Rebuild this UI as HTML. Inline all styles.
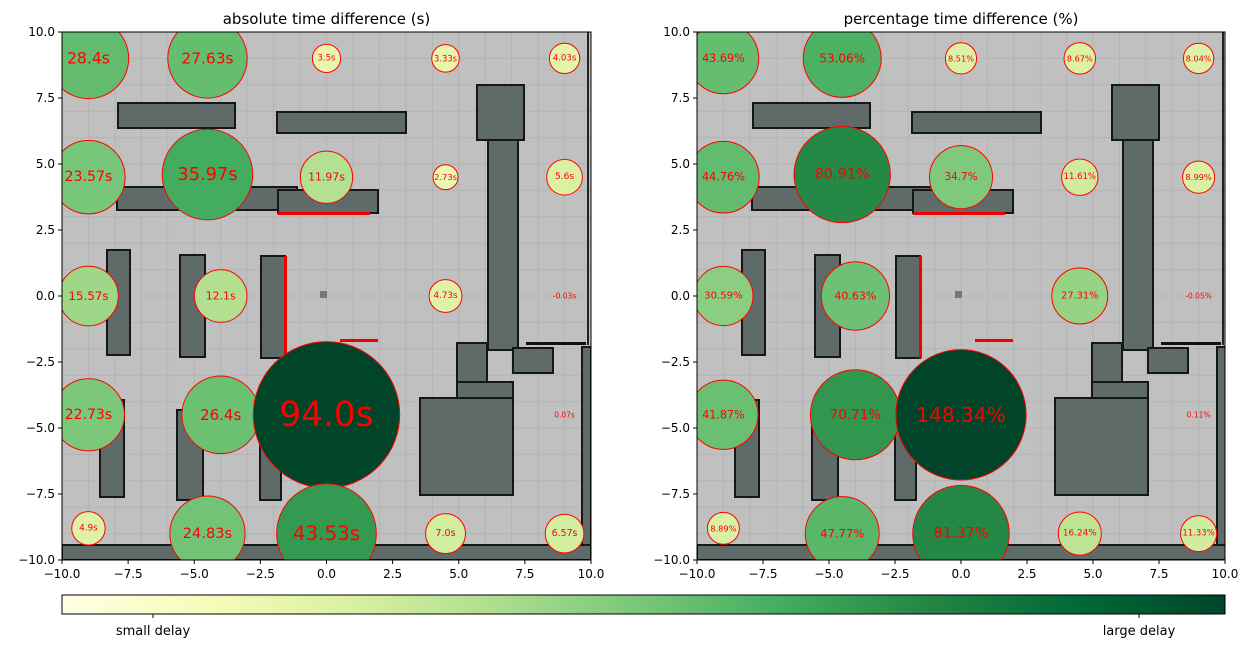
<!DOCTYPE html>
<html><head><meta charset="utf-8">
<style>
html,body{margin:0;padding:0;background:#fff;}
svg{display:block;font-family:"DejaVu Sans","Liberation Sans",sans-serif;}
</style></head>
<body>
<svg id="fig" width="1249" height="648" viewBox="0 0 1249 648" xmlns="http://www.w3.org/2000/svg">
<defs>
<linearGradient id="ylgn" x1="0" x2="1" y1="0" y2="0">
<stop offset="0" stop-color="#ffffe5"/><stop offset="0.125" stop-color="#f7fcb9"/><stop offset="0.25" stop-color="#d9f0a3"/><stop offset="0.375" stop-color="#addd8e"/><stop offset="0.5" stop-color="#78c679"/><stop offset="0.625" stop-color="#41ab5d"/><stop offset="0.75" stop-color="#238443"/><stop offset="0.875" stop-color="#006837"/><stop offset="1" stop-color="#004529"/>
</linearGradient>
<clipPath id="clipL"><rect x="62" y="32" width="529" height="528"/></clipPath>
<clipPath id="clipR"><rect x="697" y="32" width="528" height="528"/></clipPath>
</defs>
<g id="root"></g>
</svg>
<script>
// ---- data ----
const posX = [-9,-4.5,0,4.5,9, -9,-4.5,0,4.5,9, -9,-4,4.5,9, -9,-4,0,9, -9,-4.5,0,4.5,9];
const posY = [9,9,9,9,9, 4.5,4.6,4.5,4.5,4.5, 0,0,0,0, -4.5,-4.5,-4.5,-4.5, -8.8,-9,-9,-9,-9];
const absVals = [28.4,27.63,3.5,3.33,4.03, 23.57,35.97,11.97,2.73,5.6, 15.57,12.1,4.73,-0.03, 22.73,26.4,94.0,0.07, 4.9,24.83,43.53,7.0,6.57];
const absLabels = ["28.4s","27.63s","3.5s","3.33s","4.03s","23.57s","35.97s","11.97s","2.73s","5.6s","15.57s","12.1s","4.73s","-0.03s","22.73s","26.4s","94.0s","0.07s","4.9s","24.83s","43.53s","7.0s","6.57s"];
const pctVals = [43.69,53.06,8.51,8.67,8.04, 44.76,80.91,34.7,11.61,8.99, 30.59,40.63,27.31,-0.05, 41.87,70.71,148.34,0.11, 8.89,47.77,81.37,16.24,11.33];
const pctLabels = ["43.69%","53.06%","8.51%","8.67%","8.04%","44.76%","80.91%","34.7%","11.61%","8.99%","30.59%","40.63%","27.31%","-0.05%","41.87%","70.71%","148.34%","0.11%","8.89%","47.77%","81.37%","16.24%","11.33%"];
const ticks = [-10,-7.5,-5,-2.5,0,2.5,5,7.5,10];
const tickLabels = ["\u221210.0","\u22127.5","\u22125.0","\u22122.5","0.0","2.5","5.0","7.5","10.0"];

const NS="http://www.w3.org/2000/svg";
const root=document.getElementById('root');
function mk(tag,attrs,parent){const e=document.createElementNS(NS,tag);for(const k in attrs)e.setAttribute(k,attrs[k]);(parent||root).appendChild(e);return e;}

const stops=[[0,"#ffffe5"],[0.125,"#f7fcb9"],[0.25,"#d9f0a3"],[0.375,"#addd8e"],[0.5,"#78c679"],[0.625,"#41ab5d"],[0.75,"#238443"],[0.875,"#006837"],[1,"#004529"]];
function hex(h){return [1,3,5].map(i=>parseInt(h.substr(i,2),16));}
function cmap(t){t=Math.max(0,Math.min(1,t));for(let i=1;i<stops.length;i++){if(t<=stops[i][0]){const a=stops[i-1],b=stops[i];const f=(t-a[0])/(b[0]-a[0]);const ca=hex(a[1]),cb=hex(b[1]);return 'rgb('+ca.map((c,j)=>Math.round(c+(cb[j]-c)*f)).join(',')+')';}}return stops[8][1];}

// map obstacles relative to axes origin (image background)
const obst=[[56,71,117,25],[215,80,129,21],[55,155,180,23],[216,158,100,23],[45,218,23,105],[118,223,25,102],[199,224,24,102],[38,368,24,97],[115,378,26,90],[198,368,21,100],[415,53,47,55],[426,108,30,210],[395,311,30,40],[395,350,56,18],[358,366,93,97],[451,316,40,25],[520,315,9,213],[0,513,529,15]];

function panel(ox,oy,W,H,clip,title,vals,labels,rScale,fBase,fScale,name){
  const g=mk('g',{});
  const sx=v=>ox+(v+10)/20*W, sy=v=>oy+(10-v)/20*H;
  const mg=mk('g',{'clip-path':'url(#'+clip+')'},g);
  
  
  mk('rect',{x:ox,y:oy,width:W,height:H,fill:'#c0c0c0'},mg);
  for(let i=-10;i<=10;i++){
    mk('line',{x1:sx(i),x2:sx(i),y1:oy,y2:oy+H,stroke:'#b4b4b4','stroke-width':1},mg);
    mk('line',{x1:ox,x2:ox+W,y1:sy(i),y2:sy(i),stroke:'#b4b4b4','stroke-width':1},mg);
  }
  obst.forEach(o=>{mk('rect',{x:ox+o[0],y:oy+o[1],width:o[2],height:o[3],fill:'#5f6b69',stroke:'#161616','stroke-width':2},mg);});
  mk('rect',{x:ox+464,y:oy+310,width:60,height:3,fill:'#111'},mg);
  mk('rect',{x:ox+525,y:oy,width:2,height:313,fill:'#222'},mg);
  mk('rect',{x:ox+216,y:oy+180,width:92,height:3,fill:'#e00'},mg);
  mk('rect',{x:ox+222,y:oy+224,width:3,height:102,fill:'#e00'},mg);
  mk('rect',{x:ox+278,y:oy+307,width:38,height:3,fill:'#e00'},mg);
  mk('rect',{x:ox+258,y:oy+259,width:7,height:7,fill:'#777'},mg);
  const vmax=Math.max(...vals);
  const cg=mk('g',{'clip-path':'url(#'+clip+')'},g);
  vals.forEach((v,i)=>{
    const a=Math.max(0,v);
    const r=rScale*Math.sqrt(a);
    if(r>3){
      const c=mk('circle',{cx:sx(posX[i]),cy:sy(posY[i]),r:r,fill:cmap(Math.sqrt(a/vmax)),stroke:'#ff0000','stroke-width':1},cg);
      
      
    }
    const t=mk('text',{x:sx(posX[i]),y:sy(posY[i]),'text-anchor':'middle','dominant-baseline':'central','font-size':(fBase+fScale*a).toFixed(1),fill:'#ff0000'},cg);
    t.textContent=labels[i];
    
    
  });
  mk('rect',{x:ox,y:oy,width:W,height:H,fill:'none',stroke:'#000','stroke-width':1},g);
  ticks.forEach((tv,i)=>{
    mk('line',{x1:sx(tv),x2:sx(tv),y1:oy+H,y2:oy+H+4,stroke:'#000'},g);
    const tx=mk('text',{x:sx(tv),y:oy+H+18,'text-anchor':'middle','font-size':12,fill:'#000'},g);
    tx.textContent=tickLabels[i];
    
    
    mk('line',{x1:ox-4,x2:ox,y1:sy(tv),y2:sy(tv),stroke:'#000'},g);
    const ty=mk('text',{x:ox-7,y:sy(tv)+4,'text-anchor':'end','font-size':12,fill:'#000'},g);
    ty.textContent=tickLabels[i];
    
    
  });
  const tt=mk('text',{x:ox+W/2,y:oy-8,'text-anchor':'middle','font-size':15,fill:'#000'},g);
  tt.textContent=title;
  
  
}
panel(62,32,529,528,'clipL','absolute time difference (s)',absVals,absLabels,7.55,7.5,0.285,'absolute-panel');
panel(697,32,528,528,'clipR','percentage time difference (%)',pctVals,pctLabels,5.35,7.5,0.085,'percentage-panel');

// colorbar
const cb=mk('g',{});


mk('rect',{x:62,y:595,width:1163,height:19,fill:'url(#ylgn)',stroke:'#000','stroke-width':1},cb);
[[153,'small delay'],[1139,'large delay']].forEach(d=>{
  mk('line',{x1:d[0],x2:d[0],y1:614,y2:618,stroke:'#000'},cb);
  const t=mk('text',{x:d[0],y:635,'text-anchor':'middle','font-size':13,fill:'#000'},cb);
  t.textContent=d[1];
  
  
});
</script>
</body></html>
